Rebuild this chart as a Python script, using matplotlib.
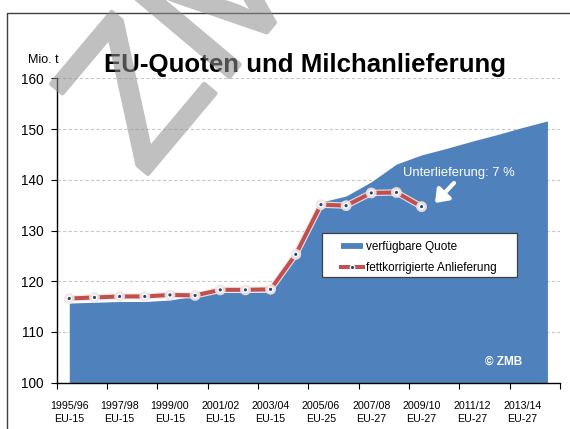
import matplotlib
matplotlib.use("Agg")
import matplotlib.pyplot as plt
from matplotlib.lines import Line2D
from matplotlib.patches import Rectangle
import matplotlib.patheffects as pe
import numpy as np

plt.rcParams['font.family'] = ['Liberation Sans', 'DejaVu Sans']

# ---- data ----
seasons = ['1995/96', '1996/97', '1997/98', '1998/99', '1999/00', '2000/01',
           '2001/02', '2002/03', '2003/04', '2004/05', '2005/06', '2006/07',
           '2007/08', '2008/09', '2009/10', '2010/11', '2011/12', '2012/13',
           '2013/14', '2014/15']
label_seasons = ['1995/96', '1997/98', '1999/00', '2001/02', '2003/04',
                 '2005/06', '2007/08', '2009/10', '2011/12', '2013/14']
label_regions = ['EU-15', 'EU-15', 'EU-15', 'EU-15', 'EU-15',
                 'EU-25', 'EU-27', 'EU-27', 'EU-27', 'EU-27']
quota = [115.7, 115.85, 116.0, 116.0, 116.3, 117.1, 117.8, 117.8, 117.9, 125.0,
         135.6, 136.8, 139.6, 143.1, 144.9, 146.2, 147.6, 148.9, 150.3, 151.6]
delivery = [116.6, 116.8, 117.0, 117.0, 117.3, 117.2, 118.3, 118.3, 118.4, 125.3,
            135.1, 134.9, 137.4, 137.5, 134.7]
series_names = ['verfügbare Quote', 'fettkorrigierte Anlieferung']

BLUE = '#4F81BD'
RED = '#C0504D'

W, H = 570, 429
fig = plt.figure(figsize=(W / 100, H / 100), dpi=100)

def fx(px):
    return px / W

def fy(py):
    return 1 - py / H

ax = fig.add_axes([fx(56.7), fy(382.7), fx(560) - fx(56.7), fy(78.3) - fy(382.7)])

x_all = np.arange(len(seasons))
x_del = np.arange(len(delivery))

ax.fill_between(x_all, 100, quota, color=BLUE, linewidth=0, zorder=2)
ax.plot(x_del, delivery, color=RED, lw=2.9, marker='o', markersize=3.2,
        markerfacecolor='#1F497D', markeredgecolor='white', markeredgewidth=0.9,
        solid_capstyle='round', zorder=4,
        path_effects=[pe.Stroke(linewidth=4.6, foreground='#f2e6e6', alpha=0.9), pe.Normal()])

ax.set_xlim(-0.5, len(seasons) - 0.5)
ax.set_ylim(100, 160)
ax.set_yticks(np.arange(100, 161, 10))
ax.yaxis.grid(True, linestyle=(0, (3, 2)), color='#c8c8c8', lw=0.8, zorder=0)
ax.set_axisbelow(True)

ax.set_xticks(np.arange(0, len(seasons), 2))
ax.set_xticklabels([f'{s}\n{r}' for s, r in zip(label_seasons, label_regions)],
                   fontsize=7.7, linespacing=1.35)
ax.set_xticks(np.arange(-0.5, len(seasons), 2), minor=True)
ax.tick_params(axis='x', which='major', length=0, pad=13)
ax.tick_params(axis='x', which='minor', length=4, width=0.8, direction='out')
ax.tick_params(axis='y', length=4, width=0.8, direction='out', labelsize=9.8, pad=5.5)

for s in ['top', 'right']:
    ax.spines[s].set_visible(False)
for s in ['left', 'bottom']:
    ax.spines[s].set_linewidth(1.0)
    ax.spines[s].set_color('black')

# legend (frame drawn separately)
frame = Rectangle((fx(321.7), fy(276.7)), fx(517) - fx(321.7), fy(233.3) - fy(276.7),
                  transform=fig.transFigure, facecolor='white',
                  edgecolor='#404040', lw=0.9, zorder=5, clip_on=False)
ax.add_artist(frame)
handles = [Line2D([0], [0], color=BLUE, lw=4.2, solid_capstyle='butt'),
           Line2D([0], [0], color=RED, lw=2.9, marker='o', markersize=3.2,
                  markerfacecolor='#1F497D', markeredgecolor='white', markeredgewidth=0.9)]
leg = ax.legend(handles, series_names, loc='upper left',
                bbox_to_anchor=(fx(341), fy(241)), bbox_transform=fig.transFigure,
                frameon=False, fontsize=8.5, handlelength=1.9, handletextpad=0.25,
                labelspacing=0.78, borderpad=0, borderaxespad=0, numpoints=1)
leg.set_zorder(6)

# annotation text and arrow
fig.text(fx(402.7), fy(172.7), 'Unterlieferung: 7 %', color='white', fontsize=9.4,
         ha='left', va='center', zorder=7)
ax.annotate('', xy=(fx(435), fy(203)), xycoords='figure fraction',
            xytext=(fx(454), fy(183)), textcoords='figure fraction',
            arrowprops=dict(arrowstyle='-|>,head_length=0.6,head_width=0.45', color='white',
                            lw=3.0, mutation_scale=12, shrinkA=0, shrinkB=0), zorder=7)
fig.text(fx(504), fy(361.7), '© ZMB', color='white', fontsize=8.5, fontweight='bold',
         ha='center', va='center', zorder=7)

# titles
fig.text(fx(104), fy(72), 'EU-Quoten und Milchanlieferung', fontsize=18.6,
         fontweight='bold', ha='left', va='baseline')
fig.text(fx(28.3), fy(62.7), 'Mio. t', fontsize=9, ha='left', va='baseline')

# outer frame
fig.lines.append(Line2D([fx(7), fx(7), 1.0], [0.0, fy(13), fy(13)],
                        transform=fig.transFigure, color='#404040', lw=1.0))

# watermark (uniformly translucent)
def half_alpha(im, dpi):
    im = im.copy()
    im[..., 3] *= 0.56
    return im, 0, 0

wm = fig.text(fx(144), fy(178.5), 'ZMB', rotation=50, rotation_mode='anchor',
              ha='left', va='baseline', fontsize=138, color='#8f8f8f',
              zorder=20,
              path_effects=[pe.Stroke(linewidth=3.2, foreground='#8f8f8f'), pe.Normal()])
wm.set_agg_filter(half_alpha)

fig.savefig('out.png', dpi=100)
